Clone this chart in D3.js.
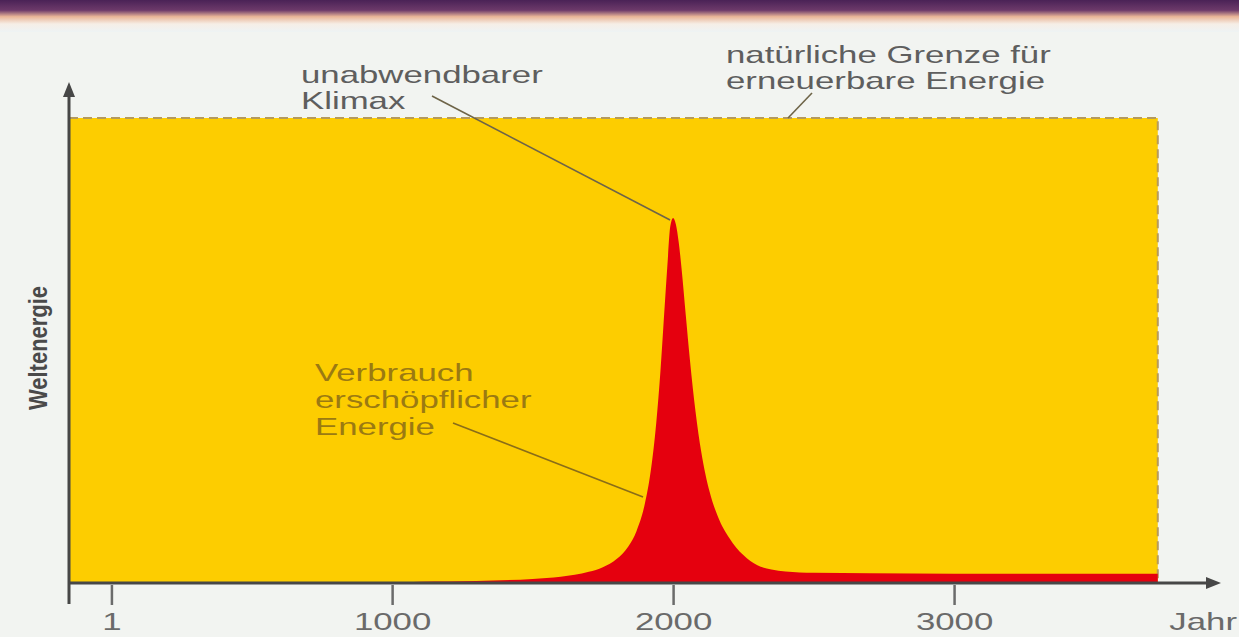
<!DOCTYPE html>
<html>
<head>
<meta charset="utf-8">
<script src="https://cdn.jsdelivr.net/npm/d3@7"></script>
<style>
body{margin:0;background:#f2f4f1;overflow:hidden;}
svg{display:block;font-family:"Liberation Sans",Arial,sans-serif;}
</style>
</head>
<body>
<svg id="chart" width="1239" height="637"></svg>
<script>
// years with a tick on the time axis
var tickYears = [1, 1000, 2000, 3000];
// natural limit for renewable energy (flat ceiling)
var limitYears = [-150, 3725];
var limitValues = [100, 100];
// consumption of exhaustible energy (same units, 100 = limit)
var useYears  = [1000, 1100, 1300, 1500, 1600, 1700, 1750, 1800, 1840, 1870, 1900, 1920, 1940, 1955, 1970, 1980, 1990, 2000,
                 2010, 2020, 2030, 2045, 2060, 2080, 2100, 2130, 2160, 2200, 2250, 2300, 2350, 2400, 2500, 2700, 3000, 3725];
var useValues = [0,    0.27, 0.45, 0.87, 1.35, 2.4,  3.4,  5.2,  7.8,  11.2, 17.2, 23.9, 34.4, 45.6, 59.5, 68.6, 76.7, 78.5,
                 77.1, 73.3, 67.7, 57.7, 47.9, 36.8, 28.3, 19.6, 14.2, 9.7,  6.0,  3.8,  2.9,  2.5,  2.2,  2.1,  2.0,  2.0];

var SX = 1.45;   // the original figure is stretched sideways
var svg = d3.select('#chart');

var x = d3.scaleLinear().domain([-150, 3950]).range([69, 1221]);
var y = d3.scaleLinear().domain([0, 100]).range([583, 118]);

// top band
var defs = svg.append('defs');
var grad = defs.append('linearGradient').attr('id', 'topband')
	.attr('x1', 0).attr('y1', 0).attr('x2', 0).attr('y2', 1);
grad.append('stop').attr('offset', '0%').attr('stop-color', '#4a2256');
grad.append('stop').attr('offset', '32%').attr('stop-color', '#6d3a6a');
grad.append('stop').attr('offset', '52%').attr('stop-color', '#e9b597');
grad.append('stop').attr('offset', '75%').attr('stop-color', '#f6eee6');
grad.append('stop').attr('offset', '100%').attr('stop-color', '#eef3f4');
svg.append('rect').attr('x', 0).attr('y', 0).attr('width', 1239).attr('height', 32).attr('fill', 'url(#topband)');

var limit = limitYears.map(function(d, i) { return {year: d, value: limitValues[i]}; });
var use = useYears.map(function(d, i) { return {year: d, value: useValues[i]}; });

// renewable area
svg.append('path')
	.datum(limit)
	.attr('fill', '#fdcd00')
	.attr('d', d3.area().x(function(d) { return x(d.year); }).y0(y(0)).y1(function(d) { return y(d.value); }));

// dashed limit border (top and right)
svg.append('path')
	.datum(limit.concat([{year: limitYears[1], value: 0}]))
	.attr('fill', 'none')
	.attr('stroke', '#b59a5c')
	.attr('stroke-width', 2)
	.attr('stroke-dasharray', '9,5')
	.attr('d', d3.line().x(function(d) { return x(d.year); }).y(function(d) { return y(d.value); }));

// exhaustible energy peak
svg.append('path')
	.datum(use)
	.attr('fill', '#e5000e')
	.attr('d', d3.area().curve(d3.curveMonotoneX)
		.x(function(d) { return x(d.year); }).y0(y(0)).y1(function(d) { return y(d.value); }));

// axes
var axisColor = '#474747';
var xAxis = svg.append('g')
	.attr('transform', 'translate(0,' + (y(0) + 2) + ')')
	.call(d3.axisBottom(x).tickValues(tickYears).tickSize(20).tickFormat(d3.format('d')));
xAxis.select('.domain').remove();
xAxis.selectAll('.tick line').attr('stroke', '#6b6b6b').attr('stroke-width', 2.5);
xAxis.selectAll('.tick text')
	.attr('y', 45).attr('dy', null)
	.attr('font-size', 24).attr('fill', '#6a6a6a')
	.attr('font-family', '"Liberation Sans",Arial,sans-serif')
	.attr('transform', 'scale(' + SX + ',1)');

var x0 = x.range()[0], x1 = x.range()[1];
svg.append('line').attr('x1', x0).attr('x2', x1 - 10).attr('y1', y(0)).attr('y2', y(0))
	.attr('stroke', axisColor).attr('stroke-width', 3);
svg.append('path').attr('d', 'M' + x1 + ',' + y(0) + 'l-15,-6v12z').attr('fill', axisColor);
svg.append('line').attr('x1', x0).attr('x2', x0).attr('y1', 604).attr('y2', 92)
	.attr('stroke', axisColor).attr('stroke-width', 3);
svg.append('path').attr('d', 'M' + x0 + ',82l-6,15h12z').attr('fill', axisColor);

function stretched(px, py, lines, size, color, lh) {
	var g = svg.append('g').attr('transform', 'translate(' + px + ',' + py + ') scale(' + SX + ',1)');
	lines.forEach(function(t, i) {
		g.append('text').attr('x', 0).attr('y', i * lh)
			.attr('font-size', size).attr('fill', color).text(t);
	});
	return g;
}

// axis titles
svg.append('g').attr('transform', 'translate(47,348) scale(1.2,1) rotate(-90)')
	.append('text').attr('text-anchor', 'middle').attr('font-size', 22).attr('font-weight', 'bold')
	.attr('fill', '#4a4a4a').text('Weltenergie');
svg.append('g').attr('transform', 'translate(1237,630) scale(' + SX + ',1)')
	.append('text').attr('text-anchor', 'end').attr('font-size', 24).attr('fill', '#6a6a6a').text('Jahr');

// annotations
var leader = d3.line();
stretched(301, 83, ['unabwendbarer', 'Klimax'], 24, '#5e5e5e', 26);
svg.append('path').attr('fill', 'none').attr('stroke', '#6e6448').attr('stroke-width', 1.6)
	.attr('d', leader([[432, 96], [x(2000) - 3, y(78.5) + 2]]));

stretched(726, 63, ['natürliche Grenze für', 'erneuerbare Energie'], 24, '#5e5e5e', 26);
svg.append('path').attr('fill', 'none').attr('stroke', '#6e6448').attr('stroke-width', 1.6)
	.attr('d', leader([[812, 93], [x(2409), y(100)]]));

stretched(315, 381, ['Verbrauch', 'erschöpflicher', 'Energie'], 24, '#9b7a12', 27);
svg.append('path').attr('fill', 'none').attr('stroke', '#8a6d18').attr('stroke-width', 1.6)
	.attr('d', leader([[453, 423], [x(1893), y(18.5)]]));
</script>
</body>
</html>
